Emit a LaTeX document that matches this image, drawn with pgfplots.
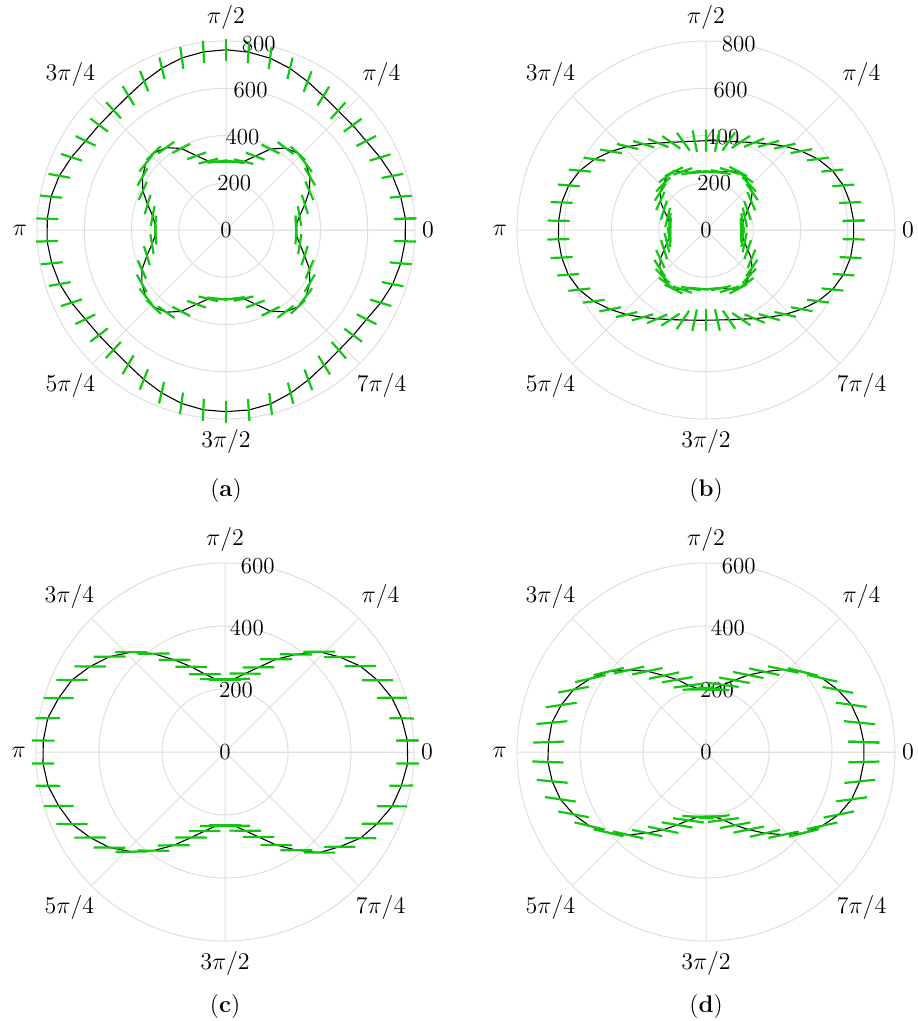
\documentclass[border=0pt]{standalone}
\usepackage{pgfplots}
\usepackage{pgfplotstable}
\pgfplotsset{compat=1.18}
\usepgfplotslibrary{polar}

\definecolor{gridgray}{RGB}{222,222,222}
\definecolor{segGreen}{RGB}{16,200,16}

% columns: t = angle (deg), r = radius, p = orientation of the bar (deg)
\pgfplotstableread{
t r p
3.6 761 1.9
10.8 753 5.0
18 741 10.9
25.2 721 16.8
32.4 703 26.8
39.6 696 36.1
46.8 693 48.3
54 701 58.2
61.2 717 69.0
68.4 736 75.9
75.6 751 82.9
82.8 759 86.2
90 763 90.0
97.2 760 -86.9
104.4 752 -82.1
111.6 737 -76.8
118.8 719 -68.0
126 703 -59.1
133.2 695 -47.5
140.4 697 -37.0
147.6 704 -25.9
154.8 723 -17.6
162 742 -10.2
169.2 754 -5.6
176.4 758 -1.5
183.6 759 2.1
190.8 751 5.4
198 740 10.1
205.2 723 17.9
212.4 705 25.8
219.6 698 37.2
226.8 697 47.1
234 705 59.3
241.2 722 68.1
248.4 741 76.8
255.6 758 82.0
262.8 767 87.1
270 769 90.0
277.2 768 -86.4
284.4 760 -83.0
291.6 743 -75.6
298.8 724 -69.2
306 707 -57.9
313.2 698 -48.6
320.4 699 -36.4
327.6 705 -26.5
334.8 724 -16.9
342 742 -11.2
349.2 753 -4.8
356.4 760 -1.7
363.6 761 1.9
}\tabAouter

\pgfplotstableread{
t r p
3.6 297 -87.5
10.8 317 -80.2
18 351 -72.1
25.2 390 -66.8
32.4 421 -59.3
39.6 439 -52.6
46.8 445 -43.1
54 429 -36.8
61.2 391 -26.5
68.4 336 -20.7
75.6 299 -13.2
82.8 291 -7.6
90 289 0.5
97.2 292 6.9
104.4 301 14.1
111.6 338 19.8
118.8 394 27.3
126 431 35.9
133.2 447 44.2
140.4 441 51.8
147.6 419 60.1
154.8 389 65.9
162 349 73.0
169.2 316 79.6
176.4 299 88.1
183.6 298 -86.9
190.8 319 -80.8
198 352 -72.6
205.2 393 -65.9
212.4 422 -60.2
219.6 441 -51.9
226.8 447 -44.0
234 430 -35.8
241.2 393 -27.4
248.4 338 -19.6
255.6 301 -14.0
262.8 293 -6.8
270 291 0.0
277.2 292 7.4
284.4 300 12.9
291.6 337 20.6
298.8 392 26.2
306 428 37.1
313.2 446 43.3
320.4 440 52.9
327.6 420 59.0
334.8 391 67.2
342 350 71.8
349.2 318 80.5
356.4 297 87.0
363.6 297 -87.5
}\tabAinner

\pgfplotstableread{
t r p
3.6 626 1.2
10.8 621 2.2
18 611 4.4
25.2 591 5.6
32.4 561 7.4
39.6 524 10.3
46.8 487 12.8
54 451 16.4
61.2 422 22.9
68.4 401 33.6
75.6 387 55.4
82.8 380 77.5
90 378 89.5
97.2 379 -78.6
104.4 386 -54.2
111.6 399 -34.8
118.8 420 -22.1
126 449 -16.9
133.2 485 -13.4
140.4 522 -9.8
147.6 559 -7.9
154.8 590 -5.1
162 611 -4.6
169.2 622 -2.0
176.4 625 -0.9
183.6 626 1.0
190.8 622 2.7
198 613 3.9
205.2 593 6.1
212.4 563 7.2
219.6 527 10.8
226.8 491 13.1
234 457 16.0
241.2 429 23.4
248.4 408 33.1
255.6 393 56.0
262.8 385 78.2
270 382 90.0
277.2 384 -77.1
284.4 392 -55.8
291.6 406 -33.9
298.8 428 -22.6
306 456 -16.2
313.2 490 -12.5
320.4 526 -10.6
327.6 562 -7.0
334.8 592 -5.9
342 612 -4.1
349.2 623 -2.4
356.4 626 -0.8
363.6 626 1.2
}\tabBouter

\pgfplotstableread{
t r p
3.6 149 -88.6
10.8 158 -82.4
18 173 -77.9
25.2 194 -71.2
32.4 227 -66.8
39.6 253 -55.1
46.8 266 -46.8
54 279 -35.2
61.2 283 -27.9
68.4 269 -17.2
75.6 253 -11.6
82.8 247 -4.3
90 247 0.6
97.2 246 5.7
104.4 251 10.4
111.6 267 18.9
118.8 282 26.1
126 281 36.9
133.2 265 45.2
140.4 251 56.8
147.6 229 65.3
154.8 197 72.6
162 171 76.4
169.2 157 84.0
176.4 151 87.8
183.6 152 -87.4
190.8 159 -83.6
198 174 -76.2
205.2 196 -72.9
212.4 229 -65.1
219.6 254 -56.9
226.8 268 -45.3
234 281 -36.7
241.2 285 -26.2
248.4 271 -18.8
255.6 256 -10.3
262.8 250 -5.5
270 251 0.0
277.2 250 4.6
284.4 254 11.9
291.6 270 17.4
298.8 284 28.3
306 282 35.0
313.2 267 47.3
320.4 252 55.6
327.6 228 67.4
334.8 195 70.8
342 172 78.1
349.2 158 82.9
356.4 150 88.9
363.6 149 -88.6
}\tabBinner

% s = half length of the bar (pt)
\pgfplotstableread{
t r p s
3.6 580 0.4 5.6
10.8 571 -0.6 6.1
18 557 0.3 7.5
25.2 535 -0.2 7.8
32.4 509 0.5 7.9
39.6 473 -0.4 7.9
46.8 437 0.2 7.9
54 383 -0.5 8.0
61.2 336 0.3 7.9
68.4 289 0.6 7.9
75.6 257 -0.3 7.8
82.8 234 0.2 7.8
90 228 0.0 7.8
97.2 233 -0.4 7.8
104.4 255 0.3 7.9
111.6 291 -0.5 7.9
118.8 334 0.2 7.9
126 386 0.4 8.0
133.2 435 -0.3 7.9
140.4 475 0.5 7.9
147.6 507 -0.2 7.9
154.8 537 0.3 7.8
162 555 -0.4 7.5
169.2 573 0.5 6.1
176.4 578 -0.3 5.7
183.6 579 0.3 5.6
190.8 572 -0.5 6.2
198 555 0.4 7.4
205.2 537 -0.3 7.8
212.4 507 0.2 7.9
219.6 476 -0.6 7.9
226.8 434 0.3 7.9
234 387 -0.2 8.0
241.2 338 0.5 7.9
248.4 292 -0.3 7.9
255.6 259 0.4 7.8
262.8 237 -0.2 7.8
270 232 0.0 7.8
277.2 236 0.3 7.8
284.4 258 -0.4 7.9
291.6 290 0.2 7.9
298.8 337 -0.5 7.9
306 385 0.3 8.0
313.2 438 -0.2 7.9
320.4 472 0.4 7.9
327.6 510 -0.3 7.9
334.8 534 0.5 7.8
342 558 -0.2 7.5
349.2 570 0.4 6.0
356.4 581 -0.5 5.6
363.6 580 0.4 5.6
}\tabC

\pgfplotstableread{
t r p
3.6 502 -1.6
10.8 496 -5.8
18 485 -8.0
25.2 463 -11.3
32.4 437 -12.7
39.6 399 -13.8
46.8 359 -12.2
54 315 -12.6
61.2 279 -11.3
68.4 245 -10.2
75.6 220 -7.3
82.8 202 -5.2
90 198 -0.4
97.2 203 4.8
104.4 218 7.7
111.6 247 9.8
118.8 277 11.9
126 317 12.1
133.2 357 12.8
140.4 401 13.3
147.6 435 13.1
154.8 465 10.7
162 483 8.4
169.2 498 5.2
176.4 501 2.0
183.6 503 -1.9
190.8 497 -5.3
198 486 -8.5
205.2 465 -10.8
212.4 438 -13.3
219.6 402 -13.2
226.8 361 -12.9
234 318 -11.9
241.2 282 -11.8
248.4 249 -9.7
255.6 224 -7.9
262.8 208 -4.6
270 205 0.3
277.2 207 5.5
284.4 223 7.1
291.6 250 10.4
298.8 281 11.4
306 319 12.9
313.2 360 12.0
320.4 403 14.1
327.6 437 12.4
334.8 466 11.6
342 486 7.7
349.2 497 6.1
356.4 502 1.4
363.6 502 -1.6
}\tabD

\newcommand{\lbl}{\fontsize{11.5}{13}\selectfont}

\pgfplotsset{
  dial/.style={
    scale only axis, width=189pt, height=189pt,
    ymin=0, ymax=#1,
    xtick={0,45,...,315},
    grid=major,
    major grid style={draw=gridgray, line width=0.5pt},
    axis line style={draw=gridgray, line width=0.5pt},
    tick style={draw=none},
    xticklabels={}, yticklabels={},
    clip=false,
  },
  bars/.style={
    only marks, scatter, mark=-, mark size=#1,
    scatter/use mapped color={draw=segGreen, fill=segGreen},
    visualization depends on={\thisrow{p} \as \barang},
    scatter/@pre marker code/.append style={/tikz/rotate=\barang},
    mark options={line width=1.1pt},
  },
  trace/.style={black, line width=0.55pt, no marks},
}

% angle labels on the outer circle of radius #1
\newcommand{\anglelabels}[1]{%
  \node[font=\lbl, anchor=180, shift={(0:0pt)}] at (axis cs:0,#1) {$0$};
  \node[font=\lbl, anchor=225, shift={(45:2pt)}] at (axis cs:45,#1) {$\pi/4$};
  \node[font=\lbl, anchor=270, shift={(90:2pt)}] at (axis cs:90,#1) {$\pi/2$};
  \node[font=\lbl, anchor=315, shift={(135:2pt)}] at (axis cs:135,#1) {$3\pi/4$};
  \node[font=\lbl, anchor=0, shift={(180:1.5pt)}] at (axis cs:180,#1) {$\pi$};
  \node[font=\lbl, anchor=45, shift={(225:2pt)}] at (axis cs:225,#1) {$5\pi/4$};
  \node[font=\lbl, anchor=90, shift={(270:1.5pt)}] at (axis cs:270,#1) {$3\pi/2$};
  \node[font=\lbl, anchor=135, shift={(315:2pt)}] at (axis cs:315,#1) {$7\pi/4$};
}

\begin{document}
\begin{tikzpicture}
\path[use as bounding box] (0,0) rectangle (458.5pt,-510.5pt);

% (a)
\begin{polaraxis}[dial=800, ytick={200,400,600}, at={(113pt,-115pt)}, anchor=center]
  \anglelabels{800}
  \node[font=\lbl] at (axis cs:80,0) {0};
  \node[font=\lbl] at (axis cs:80,200) {200};
  \node[font=\lbl] at (axis cs:80,400) {400};
  \node[font=\lbl] at (axis cs:80,600) {600};
  \node[font=\lbl] at (axis cs:80,800) {800};
  \addplot[bars=5.5] table[x=t, y=r] {\tabAouter};
  \addplot[bars=5.0] table[x=t, y=r] {\tabAinner};
  \addplot[trace] table[x=t, y=r] {\tabAouter};
  \addplot[trace] table[x=t, y=r] {\tabAinner};
\end{polaraxis}

% (b)
\begin{polaraxis}[dial=800, ytick={200,400,600}, at={(353pt,-115pt)}, anchor=center]
  \anglelabels{800}
  \node[font=\lbl] at (axis cs:80,0) {0};
  \node[font=\lbl] at (axis cs:80,200) {200};
  \node[font=\lbl] at (axis cs:80,400) {400};
  \node[font=\lbl] at (axis cs:80,600) {600};
  \node[font=\lbl] at (axis cs:80,800) {800};
  \addplot[bars=5.5] table[x=t, y=r] {\tabBouter};
  \addplot[bars=5.0] table[x=t, y=r] {\tabBinner};
  \addplot[trace] table[x=t, y=r] {\tabBouter};
  \addplot[trace] table[x=t, y=r] {\tabBinner};
\end{polaraxis}

% (c)
\begin{polaraxis}[dial=600, ytick={200,400}, at={(112.5pt,-376pt)}, anchor=center]
  \anglelabels{600}
  \node[font=\lbl] at (axis cs:80,0) {0};
  \node[font=\lbl] at (axis cs:80,200) {200};
  \node[font=\lbl] at (axis cs:80,400) {400};
  \node[font=\lbl] at (axis cs:80,600) {600};
  \addplot[bars=7.8,
    visualization depends on={\thisrow{s} \as \barlen},
    scatter/@pre marker code/.append style={/tikz/mark size=\barlen}]
    table[x=t, y=r] {\tabC};
  \addplot[trace] table[x=t, y=r] {\tabC};
\end{polaraxis}

% (d)
\begin{polaraxis}[dial=600, ytick={200,400}, at={(353pt,-376pt)}, anchor=center]
  \anglelabels{600}
  \node[font=\lbl] at (axis cs:80,0) {0};
  \node[font=\lbl] at (axis cs:80,200) {200};
  \node[font=\lbl] at (axis cs:80,400) {400};
  \node[font=\lbl] at (axis cs:80,600) {600};
  \addplot[bars=7.75] table[x=t, y=r] {\tabD};
  \addplot[trace] table[x=t, y=r] {\tabD};
\end{polaraxis}

\node[font=\fontsize{12}{14}\selectfont] at (113pt,-245.5pt) {(\textbf{a})};
\node[font=\fontsize{12}{14}\selectfont] at (353pt,-245.5pt) {(\textbf{b})};
\node[font=\fontsize{12}{14}\selectfont] at (112.5pt,-503pt) {(\textbf{c})};
\node[font=\fontsize{12}{14}\selectfont] at (353pt,-503pt) {(\textbf{d})};
\end{tikzpicture}
\end{document}
